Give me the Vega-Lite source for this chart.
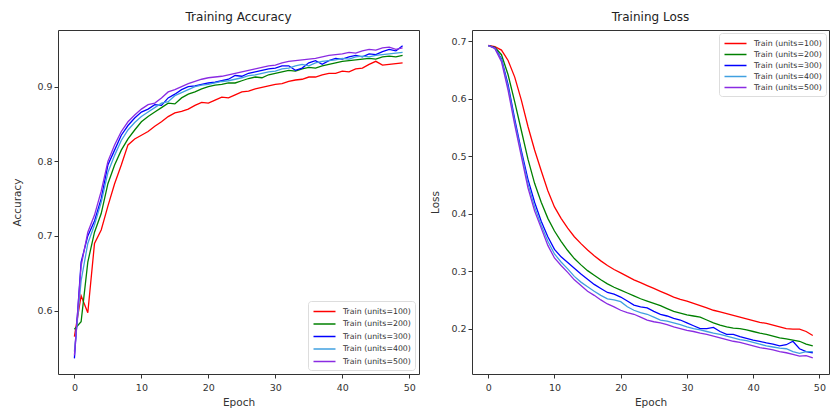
{
  "$schema": "https://vega.github.io/schema/vega-lite/v6.json",
  "background": "white",
  "padding": {"left": 12, "top": 10, "right": 2, "bottom": 1},
  "config": {
    "font": "DejaVu Sans",
    "view": {"stroke": "#333333", "strokeWidth": 1},
    "axis": {"grid": false, "domain": false, "labelFontSize": 9.5, "titleFontSize": 10.5, "labelColor": "#333333", "titleColor": "#333333", "tickColor": "#333333", "tickSize": 4, "labelPadding": 2, "titleFontWeight": "normal", "labelFont": "DejaVu Sans", "titleFont": "DejaVu Sans"},
    "title": {"fontSize": 12, "fontWeight": "normal", "color": "#222222", "font": "DejaVu Sans", "offset": 6},
    "legend": {"symbolType": "M-2,0H2", "symbolSize": 121, "symbolStrokeWidth": 1.5, "symbolOffset": 6, "labelOffset": 12, "labelFontSize": 7.8, "labelColor": "#333333", "labelFont": "DejaVu Sans", "fillColor": "white", "strokeColor": "#dddddd", "cornerRadius": 3, "padding": 4, "title": null}
  },
  "datasets": {
    "train": [
      {"epoch":0,"series":"Train (units=100)","accuracy":0.565,"loss":0.693},{"epoch":0,"series":"Train (units=200)","accuracy":0.575,"loss":0.693},{"epoch":0,"series":"Train (units=300)","accuracy":0.536,"loss":0.693},{"epoch":0,"series":"Train (units=400)","accuracy":0.545,"loss":0.693},{"epoch":0,"series":"Train (units=500)","accuracy":0.54,"loss":0.693},
      {"epoch":1,"series":"Train (units=100)","accuracy":0.62,"loss":0.691},{"epoch":1,"series":"Train (units=200)","accuracy":0.585,"loss":0.69},{"epoch":1,"series":"Train (units=300)","accuracy":0.665,"loss":0.689},{"epoch":1,"series":"Train (units=400)","accuracy":0.64,"loss":0.688},{"epoch":1,"series":"Train (units=500)","accuracy":0.66,"loss":0.688},
      {"epoch":2,"series":"Train (units=100)","accuracy":0.597,"loss":0.685},{"epoch":2,"series":"Train (units=200)","accuracy":0.665,"loss":0.677},{"epoch":2,"series":"Train (units=300)","accuracy":0.7,"loss":0.67},{"epoch":2,"series":"Train (units=400)","accuracy":0.69,"loss":0.668},{"epoch":2,"series":"Train (units=500)","accuracy":0.705,"loss":0.665},
      {"epoch":3,"series":"Train (units=100)","accuracy":0.69,"loss":0.667},{"epoch":3,"series":"Train (units=200)","accuracy":0.705,"loss":0.642},{"epoch":3,"series":"Train (units=300)","accuracy":0.72,"loss":0.625},{"epoch":3,"series":"Train (units=400)","accuracy":0.715,"loss":0.62},{"epoch":3,"series":"Train (units=500)","accuracy":0.728,"loss":0.615},
      {"epoch":4,"series":"Train (units=100)","accuracy":0.708,"loss":0.638},{"epoch":4,"series":"Train (units=200)","accuracy":0.73,"loss":0.595},{"epoch":4,"series":"Train (units=300)","accuracy":0.75,"loss":0.565},{"epoch":4,"series":"Train (units=400)","accuracy":0.745,"loss":0.56},{"epoch":4,"series":"Train (units=500)","accuracy":0.76,"loss":0.555},
      {"epoch":5,"series":"Train (units=100)","accuracy":0.74,"loss":0.598},{"epoch":5,"series":"Train (units=200)","accuracy":0.77,"loss":0.545},{"epoch":5,"series":"Train (units=300)","accuracy":0.795,"loss":0.51},{"epoch":5,"series":"Train (units=400)","accuracy":0.785,"loss":0.505},{"epoch":5,"series":"Train (units=500)","accuracy":0.8,"loss":0.5},
      {"epoch":6,"series":"Train (units=100)","accuracy":0.77,"loss":0.552},{"epoch":6,"series":"Train (units=200)","accuracy":0.795,"loss":0.495},{"epoch":6,"series":"Train (units=300)","accuracy":0.815,"loss":0.46},{"epoch":6,"series":"Train (units=400)","accuracy":0.808,"loss":0.452},{"epoch":6,"series":"Train (units=500)","accuracy":0.822,"loss":0.445},
      {"epoch":7,"series":"Train (units=100)","accuracy":0.795,"loss":0.511},{"epoch":7,"series":"Train (units=200)","accuracy":0.815,"loss":0.453},{"epoch":7,"series":"Train (units=300)","accuracy":0.835,"loss":0.42},{"epoch":7,"series":"Train (units=400)","accuracy":0.828,"loss":0.412},{"epoch":7,"series":"Train (units=500)","accuracy":0.84,"loss":0.405},
      {"epoch":8,"series":"Train (units=100)","accuracy":0.822,"loss":0.475},{"epoch":8,"series":"Train (units=200)","accuracy":0.83,"loss":0.42},{"epoch":8,"series":"Train (units=300)","accuracy":0.848,"loss":0.387},{"epoch":8,"series":"Train (units=400)","accuracy":0.842,"loss":0.38},{"epoch":8,"series":"Train (units=500)","accuracy":0.853,"loss":0.375},
      {"epoch":9,"series":"Train (units=100)","accuracy":0.83,"loss":0.44},{"epoch":9,"series":"Train (units=200)","accuracy":0.842,"loss":0.392},{"epoch":9,"series":"Train (units=300)","accuracy":0.858,"loss":0.36},{"epoch":9,"series":"Train (units=400)","accuracy":0.852,"loss":0.352},{"epoch":9,"series":"Train (units=500)","accuracy":0.862,"loss":0.345},
      {"epoch":10,"series":"Train (units=100)","accuracy":0.835,"loss":0.412},{"epoch":10,"series":"Train (units=200)","accuracy":0.853,"loss":0.37},{"epoch":10,"series":"Train (units=300)","accuracy":0.866,"loss":0.338},{"epoch":10,"series":"Train (units=400)","accuracy":0.86,"loss":0.33},{"epoch":10,"series":"Train (units=500)","accuracy":0.87,"loss":0.323},
      {"epoch":11,"series":"Train (units=100)","accuracy":0.84,"loss":0.392},{"epoch":11,"series":"Train (units=200)","accuracy":0.86,"loss":0.352},{"epoch":11,"series":"Train (units=300)","accuracy":0.87,"loss":0.325},{"epoch":11,"series":"Train (units=400)","accuracy":0.866,"loss":0.316},{"epoch":11,"series":"Train (units=500)","accuracy":0.876,"loss":0.31},
      {"epoch":12,"series":"Train (units=100)","accuracy":0.847,"loss":0.375},{"epoch":12,"series":"Train (units=200)","accuracy":0.866,"loss":0.336},{"epoch":12,"series":"Train (units=300)","accuracy":0.876,"loss":0.315},{"epoch":12,"series":"Train (units=400)","accuracy":0.872,"loss":0.304},{"epoch":12,"series":"Train (units=500)","accuracy":0.878,"loss":0.298},
      {"epoch":13,"series":"Train (units=100)","accuracy":0.853,"loss":0.36},{"epoch":13,"series":"Train (units=200)","accuracy":0.872,"loss":0.322},{"epoch":13,"series":"Train (units=300)","accuracy":0.875,"loss":0.305},{"epoch":13,"series":"Train (units=400)","accuracy":0.878,"loss":0.291},{"epoch":13,"series":"Train (units=500)","accuracy":0.885,"loss":0.285},
      {"epoch":14,"series":"Train (units=100)","accuracy":0.86,"loss":0.348},{"epoch":14,"series":"Train (units=200)","accuracy":0.878,"loss":0.311},{"epoch":14,"series":"Train (units=300)","accuracy":0.885,"loss":0.295},{"epoch":14,"series":"Train (units=400)","accuracy":0.88,"loss":0.281},{"epoch":14,"series":"Train (units=500)","accuracy":0.893,"loss":0.275},
      {"epoch":15,"series":"Train (units=100)","accuracy":0.865,"loss":0.337},{"epoch":15,"series":"Train (units=200)","accuracy":0.877,"loss":0.301},{"epoch":15,"series":"Train (units=300)","accuracy":0.89,"loss":0.286},{"epoch":15,"series":"Train (units=400)","accuracy":0.888,"loss":0.273},{"epoch":15,"series":"Train (units=500)","accuracy":0.896,"loss":0.265},
      {"epoch":16,"series":"Train (units=100)","accuracy":0.867,"loss":0.327},{"epoch":16,"series":"Train (units=200)","accuracy":0.885,"loss":0.293},{"epoch":16,"series":"Train (units=300)","accuracy":0.896,"loss":0.277},{"epoch":16,"series":"Train (units=400)","accuracy":0.892,"loss":0.265},{"epoch":16,"series":"Train (units=500)","accuracy":0.9,"loss":0.258},
      {"epoch":17,"series":"Train (units=100)","accuracy":0.87,"loss":0.318},{"epoch":17,"series":"Train (units=200)","accuracy":0.89,"loss":0.285},{"epoch":17,"series":"Train (units=300)","accuracy":0.9,"loss":0.27},{"epoch":17,"series":"Train (units=400)","accuracy":0.896,"loss":0.258},{"epoch":17,"series":"Train (units=500)","accuracy":0.904,"loss":0.25},
      {"epoch":18,"series":"Train (units=100)","accuracy":0.875,"loss":0.31},{"epoch":18,"series":"Train (units=200)","accuracy":0.893,"loss":0.278},{"epoch":18,"series":"Train (units=300)","accuracy":0.901,"loss":0.263},{"epoch":18,"series":"Train (units=400)","accuracy":0.9,"loss":0.252},{"epoch":18,"series":"Train (units=500)","accuracy":0.907,"loss":0.243},
      {"epoch":19,"series":"Train (units=100)","accuracy":0.879,"loss":0.303},{"epoch":19,"series":"Train (units=200)","accuracy":0.897,"loss":0.272},{"epoch":19,"series":"Train (units=300)","accuracy":0.903,"loss":0.26},{"epoch":19,"series":"Train (units=400)","accuracy":0.902,"loss":0.25},{"epoch":19,"series":"Train (units=500)","accuracy":0.91,"loss":0.238},
      {"epoch":20,"series":"Train (units=100)","accuracy":0.878,"loss":0.297},{"epoch":20,"series":"Train (units=200)","accuracy":0.9,"loss":0.267},{"epoch":20,"series":"Train (units=300)","accuracy":0.905,"loss":0.255},{"epoch":20,"series":"Train (units=400)","accuracy":0.903,"loss":0.247},{"epoch":20,"series":"Train (units=500)","accuracy":0.912,"loss":0.232},
      {"epoch":21,"series":"Train (units=100)","accuracy":0.882,"loss":0.291},{"epoch":21,"series":"Train (units=200)","accuracy":0.902,"loss":0.262},{"epoch":21,"series":"Train (units=300)","accuracy":0.906,"loss":0.248},{"epoch":21,"series":"Train (units=400)","accuracy":0.905,"loss":0.238},{"epoch":21,"series":"Train (units=500)","accuracy":0.913,"loss":0.228},
      {"epoch":22,"series":"Train (units=100)","accuracy":0.886,"loss":0.285},{"epoch":22,"series":"Train (units=200)","accuracy":0.903,"loss":0.257},{"epoch":22,"series":"Train (units=300)","accuracy":0.908,"loss":0.241},{"epoch":22,"series":"Train (units=400)","accuracy":0.907,"loss":0.232},{"epoch":22,"series":"Train (units=500)","accuracy":0.914,"loss":0.225},
      {"epoch":23,"series":"Train (units=100)","accuracy":0.885,"loss":0.28},{"epoch":23,"series":"Train (units=200)","accuracy":0.905,"loss":0.252},{"epoch":23,"series":"Train (units=300)","accuracy":0.91,"loss":0.238},{"epoch":23,"series":"Train (units=400)","accuracy":0.908,"loss":0.228},{"epoch":23,"series":"Train (units=500)","accuracy":0.916,"loss":0.22},
      {"epoch":24,"series":"Train (units=100)","accuracy":0.889,"loss":0.275},{"epoch":24,"series":"Train (units=200)","accuracy":0.905,"loss":0.248},{"epoch":24,"series":"Train (units=300)","accuracy":0.915,"loss":0.236},{"epoch":24,"series":"Train (units=400)","accuracy":0.91,"loss":0.225},{"epoch":24,"series":"Train (units=500)","accuracy":0.918,"loss":0.215},
      {"epoch":25,"series":"Train (units=100)","accuracy":0.893,"loss":0.27},{"epoch":25,"series":"Train (units=200)","accuracy":0.908,"loss":0.244},{"epoch":25,"series":"Train (units=300)","accuracy":0.914,"loss":0.23},{"epoch":25,"series":"Train (units=400)","accuracy":0.912,"loss":0.22},{"epoch":25,"series":"Train (units=500)","accuracy":0.92,"loss":0.212},
      {"epoch":26,"series":"Train (units=100)","accuracy":0.894,"loss":0.265},{"epoch":26,"series":"Train (units=200)","accuracy":0.911,"loss":0.24},{"epoch":26,"series":"Train (units=300)","accuracy":0.918,"loss":0.225},{"epoch":26,"series":"Train (units=400)","accuracy":0.915,"loss":0.215},{"epoch":26,"series":"Train (units=500)","accuracy":0.922,"loss":0.21},
      {"epoch":27,"series":"Train (units=100)","accuracy":0.897,"loss":0.26},{"epoch":27,"series":"Train (units=200)","accuracy":0.913,"loss":0.235},{"epoch":27,"series":"Train (units=300)","accuracy":0.92,"loss":0.222},{"epoch":27,"series":"Train (units=400)","accuracy":0.916,"loss":0.213},{"epoch":27,"series":"Train (units=500)","accuracy":0.924,"loss":0.207},
      {"epoch":28,"series":"Train (units=100)","accuracy":0.899,"loss":0.255},{"epoch":28,"series":"Train (units=200)","accuracy":0.912,"loss":0.23},{"epoch":28,"series":"Train (units=300)","accuracy":0.922,"loss":0.218},{"epoch":28,"series":"Train (units=400)","accuracy":0.918,"loss":0.21},{"epoch":28,"series":"Train (units=500)","accuracy":0.926,"loss":0.203},
      {"epoch":29,"series":"Train (units=100)","accuracy":0.901,"loss":0.251},{"epoch":29,"series":"Train (units=200)","accuracy":0.916,"loss":0.227},{"epoch":29,"series":"Train (units=300)","accuracy":0.924,"loss":0.215},{"epoch":29,"series":"Train (units=400)","accuracy":0.92,"loss":0.207},{"epoch":29,"series":"Train (units=500)","accuracy":0.928,"loss":0.2},
      {"epoch":30,"series":"Train (units=100)","accuracy":0.903,"loss":0.248},{"epoch":30,"series":"Train (units=200)","accuracy":0.918,"loss":0.224},{"epoch":30,"series":"Train (units=300)","accuracy":0.925,"loss":0.21},{"epoch":30,"series":"Train (units=400)","accuracy":0.921,"loss":0.203},{"epoch":30,"series":"Train (units=500)","accuracy":0.929,"loss":0.197},
      {"epoch":31,"series":"Train (units=100)","accuracy":0.904,"loss":0.244},{"epoch":31,"series":"Train (units=200)","accuracy":0.92,"loss":0.222},{"epoch":31,"series":"Train (units=300)","accuracy":0.928,"loss":0.205},{"epoch":31,"series":"Train (units=400)","accuracy":0.924,"loss":0.2},{"epoch":31,"series":"Train (units=500)","accuracy":0.932,"loss":0.195},
      {"epoch":32,"series":"Train (units=100)","accuracy":0.907,"loss":0.24},{"epoch":32,"series":"Train (units=200)","accuracy":0.922,"loss":0.22},{"epoch":32,"series":"Train (units=300)","accuracy":0.928,"loss":0.2},{"epoch":32,"series":"Train (units=400)","accuracy":0.925,"loss":0.198},{"epoch":32,"series":"Train (units=500)","accuracy":0.934,"loss":0.192},
      {"epoch":33,"series":"Train (units=100)","accuracy":0.909,"loss":0.236},{"epoch":33,"series":"Train (units=200)","accuracy":0.921,"loss":0.215},{"epoch":33,"series":"Train (units=300)","accuracy":0.922,"loss":0.2},{"epoch":33,"series":"Train (units=400)","accuracy":0.928,"loss":0.195},{"epoch":33,"series":"Train (units=500)","accuracy":0.935,"loss":0.19},
      {"epoch":34,"series":"Train (units=100)","accuracy":0.91,"loss":0.232},{"epoch":34,"series":"Train (units=200)","accuracy":0.924,"loss":0.21},{"epoch":34,"series":"Train (units=300)","accuracy":0.925,"loss":0.202},{"epoch":34,"series":"Train (units=400)","accuracy":0.93,"loss":0.192},{"epoch":34,"series":"Train (units=500)","accuracy":0.936,"loss":0.187},
      {"epoch":35,"series":"Train (units=100)","accuracy":0.913,"loss":0.229},{"epoch":35,"series":"Train (units=200)","accuracy":0.926,"loss":0.206},{"epoch":35,"series":"Train (units=300)","accuracy":0.932,"loss":0.195},{"epoch":35,"series":"Train (units=400)","accuracy":0.928,"loss":0.19},{"epoch":35,"series":"Train (units=500)","accuracy":0.937,"loss":0.184},
      {"epoch":36,"series":"Train (units=100)","accuracy":0.913,"loss":0.226},{"epoch":36,"series":"Train (units=200)","accuracy":0.925,"loss":0.203},{"epoch":36,"series":"Train (units=300)","accuracy":0.935,"loss":0.19},{"epoch":36,"series":"Train (units=400)","accuracy":0.932,"loss":0.187},{"epoch":36,"series":"Train (units=500)","accuracy":0.938,"loss":0.181},
      {"epoch":37,"series":"Train (units=100)","accuracy":0.916,"loss":0.223},{"epoch":37,"series":"Train (units=200)","accuracy":0.928,"loss":0.201},{"epoch":37,"series":"Train (units=300)","accuracy":0.93,"loss":0.19},{"epoch":37,"series":"Train (units=400)","accuracy":0.934,"loss":0.184},{"epoch":37,"series":"Train (units=500)","accuracy":0.94,"loss":0.178},
      {"epoch":38,"series":"Train (units=100)","accuracy":0.918,"loss":0.22},{"epoch":38,"series":"Train (units=200)","accuracy":0.93,"loss":0.2},{"epoch":38,"series":"Train (units=300)","accuracy":0.935,"loss":0.186},{"epoch":38,"series":"Train (units=400)","accuracy":0.935,"loss":0.181},{"epoch":38,"series":"Train (units=500)","accuracy":0.942,"loss":0.176},
      {"epoch":39,"series":"Train (units=100)","accuracy":0.918,"loss":0.217},{"epoch":39,"series":"Train (units=200)","accuracy":0.932,"loss":0.198},{"epoch":39,"series":"Train (units=300)","accuracy":0.938,"loss":0.183},{"epoch":39,"series":"Train (units=400)","accuracy":0.936,"loss":0.179},{"epoch":39,"series":"Train (units=500)","accuracy":0.943,"loss":0.173},
      {"epoch":40,"series":"Train (units=100)","accuracy":0.921,"loss":0.214},{"epoch":40,"series":"Train (units=200)","accuracy":0.934,"loss":0.195},{"epoch":40,"series":"Train (units=300)","accuracy":0.937,"loss":0.18},{"epoch":40,"series":"Train (units=400)","accuracy":0.938,"loss":0.176},{"epoch":40,"series":"Train (units=500)","accuracy":0.944,"loss":0.17},
      {"epoch":41,"series":"Train (units=100)","accuracy":0.92,"loss":0.211},{"epoch":41,"series":"Train (units=200)","accuracy":0.935,"loss":0.192},{"epoch":41,"series":"Train (units=300)","accuracy":0.94,"loss":0.178},{"epoch":41,"series":"Train (units=400)","accuracy":0.937,"loss":0.173},{"epoch":41,"series":"Train (units=500)","accuracy":0.946,"loss":0.167},
      {"epoch":42,"series":"Train (units=100)","accuracy":0.924,"loss":0.209},{"epoch":42,"series":"Train (units=200)","accuracy":0.936,"loss":0.19},{"epoch":42,"series":"Train (units=300)","accuracy":0.942,"loss":0.175},{"epoch":42,"series":"Train (units=400)","accuracy":0.94,"loss":0.17},{"epoch":42,"series":"Train (units=500)","accuracy":0.945,"loss":0.165},
      {"epoch":43,"series":"Train (units=100)","accuracy":0.925,"loss":0.206},{"epoch":43,"series":"Train (units=200)","accuracy":0.937,"loss":0.187},{"epoch":43,"series":"Train (units=300)","accuracy":0.94,"loss":0.173},{"epoch":43,"series":"Train (units=400)","accuracy":0.941,"loss":0.168},{"epoch":43,"series":"Train (units=500)","accuracy":0.948,"loss":0.163},
      {"epoch":44,"series":"Train (units=100)","accuracy":0.93,"loss":0.203},{"epoch":44,"series":"Train (units=200)","accuracy":0.938,"loss":0.184},{"epoch":44,"series":"Train (units=300)","accuracy":0.944,"loss":0.17},{"epoch":44,"series":"Train (units=400)","accuracy":0.94,"loss":0.166},{"epoch":44,"series":"Train (units=500)","accuracy":0.95,"loss":0.16},
      {"epoch":45,"series":"Train (units=100)","accuracy":0.934,"loss":0.2},{"epoch":45,"series":"Train (units=200)","accuracy":0.937,"loss":0.182},{"epoch":45,"series":"Train (units=300)","accuracy":0.943,"loss":0.172},{"epoch":45,"series":"Train (units=400)","accuracy":0.942,"loss":0.165},{"epoch":45,"series":"Train (units=500)","accuracy":0.949,"loss":0.158},
      {"epoch":46,"series":"Train (units=100)","accuracy":0.929,"loss":0.199},{"epoch":46,"series":"Train (units=200)","accuracy":0.94,"loss":0.18},{"epoch":46,"series":"Train (units=300)","accuracy":0.947,"loss":0.178},{"epoch":46,"series":"Train (units=400)","accuracy":0.943,"loss":0.16},{"epoch":46,"series":"Train (units=500)","accuracy":0.952,"loss":0.155},
      {"epoch":47,"series":"Train (units=100)","accuracy":0.93,"loss":0.199},{"epoch":47,"series":"Train (units=200)","accuracy":0.941,"loss":0.178},{"epoch":47,"series":"Train (units=300)","accuracy":0.95,"loss":0.165},{"epoch":47,"series":"Train (units=400)","accuracy":0.944,"loss":0.157},{"epoch":47,"series":"Train (units=500)","accuracy":0.953,"loss":0.152},
      {"epoch":48,"series":"Train (units=100)","accuracy":0.931,"loss":0.195},{"epoch":48,"series":"Train (units=200)","accuracy":0.94,"loss":0.173},{"epoch":48,"series":"Train (units=300)","accuracy":0.948,"loss":0.16},{"epoch":48,"series":"Train (units=400)","accuracy":0.945,"loss":0.16},{"epoch":48,"series":"Train (units=500)","accuracy":0.95,"loss":0.153},
      {"epoch":49,"series":"Train (units=100)","accuracy":0.932,"loss":0.188},{"epoch":49,"series":"Train (units=200)","accuracy":0.942,"loss":0.17},{"epoch":49,"series":"Train (units=300)","accuracy":0.955,"loss":0.158},{"epoch":49,"series":"Train (units=400)","accuracy":0.946,"loss":0.16},{"epoch":49,"series":"Train (units=500)","accuracy":0.952,"loss":0.149}
    ]
  },
  "resolve": {"scale": {"color": "independent"}, "legend": {"color": "independent"}},
  "spacing": 10,
  "hconcat": [
    {
      "title": "Training Accuracy",
      "width": 361,
      "height": 344,
      "data": {"name": "train"},
      "mark": {"type": "line", "strokeWidth": 1.3},
      "encoding": {
        "x": {"field": "epoch", "type": "quantitative", "scale": {"domain": [-2.45, 51.45], "nice": false, "zero": false}, "axis": {"values": [0, 10, 20, 30, 40, 50], "title": "Epoch", "labelPadding": 4, "titlePadding": 6}},
        "y": {"field": "accuracy", "type": "quantitative", "scale": {"domain": [0.515, 0.976], "nice": false, "zero": false}, "axis": {"values": [0.6, 0.7, 0.8, 0.9], "format": ".1f", "title": "Accuracy", "titlePadding": 14}},
        "color": {"field": "series", "type": "nominal",
          "scale": {"domain": ["Train (units=100)", "Train (units=200)", "Train (units=300)", "Train (units=400)", "Train (units=500)"], "range": ["#ff0000", "#008000", "#0000ff", "#40a0e0", "#8a2be2"]},
          "legend": {"orient": "bottom-right", "offset": 4, "rowPadding": 1.5}}
      }
    },
    {
      "title": "Training Loss",
      "width": 357,
      "height": 344,
      "data": {"name": "train"},
      "mark": {"type": "line", "strokeWidth": 1.3},
      "encoding": {
        "x": {"field": "epoch", "type": "quantitative", "scale": {"domain": [-2.45, 51.45], "nice": false, "zero": false}, "axis": {"values": [0, 10, 20, 30, 40, 50], "title": "Epoch", "labelPadding": 4, "titlePadding": 6}},
        "y": {"field": "loss", "type": "quantitative", "scale": {"domain": [0.121, 0.72], "nice": false, "zero": false}, "axis": {"values": [0.2, 0.3, 0.4, 0.5, 0.6, 0.7], "format": ".1f", "title": "Loss", "titlePadding": 10}},
        "color": {"field": "series", "type": "nominal",
          "scale": {"domain": ["Train (units=100)", "Train (units=200)", "Train (units=300)", "Train (units=400)", "Train (units=500)"], "range": ["#ff0000", "#008000", "#0000ff", "#40a0e0", "#8a2be2"]},
          "legend": {"orient": "top-right", "offset": 3, "rowPadding": 0}}
      }
    }
  ]
}
